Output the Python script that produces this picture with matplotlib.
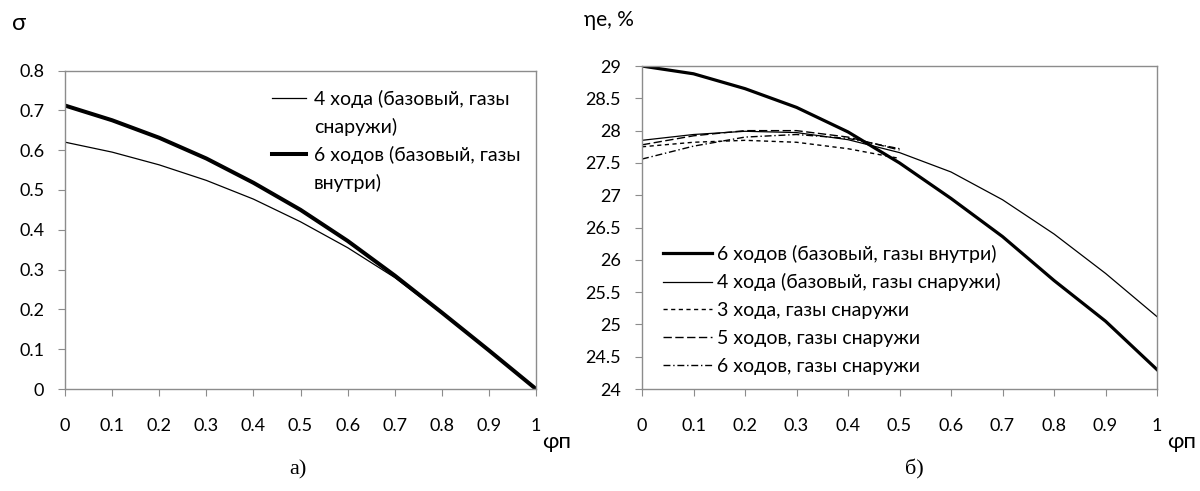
import numpy as np
import matplotlib.pyplot as plt
from matplotlib.lines import Line2D

plt.rcParams['font.family'] = ['Lato', 'DejaVu Sans']

phi = [0, 0.1, 0.2, 0.3, 0.4, 0.5, 0.6, 0.7, 0.8, 0.9, 1.0]

# а) sigma
sigma_4 = [0.62, 0.595, 0.563, 0.524, 0.477, 0.42, 0.355, 0.28, 0.19, 0.097, 0.0]
sigma_6 = [0.712, 0.675, 0.631, 0.579, 0.518, 0.45, 0.372, 0.285, 0.192, 0.097, 0.0]

# б) eta_e
eta_6 = [29.0, 28.88, 28.65, 28.36, 27.98, 27.5, 26.95, 26.36, 25.68, 25.05, 24.3]
eta_4 = [27.85, 27.94, 27.99, 27.97, 27.86, 27.66, 27.36, 26.93, 26.4, 25.79, 25.12]
phi_s = [0, 0.1, 0.2, 0.3, 0.4, 0.5]
eta_3s = [27.75, 27.82, 27.85, 27.82, 27.72, 27.57]
eta_5s = [27.78, 27.92, 28.0, 28.0, 27.9, 27.7]
eta_6s = [27.56, 27.76, 27.9, 27.94, 27.88, 27.72]

lab_4 = '4 хода (базовый, газы снаружи)'
lab_6 = '6 ходов (базовый, газы внутри)'
lab_3s = '3 хода, газы снаружи'
lab_5s = '5 ходов, газы снаружи'
lab_6s = '6 ходов, газы снаружи'

FS = 13
LFS = 14

fig = plt.figure(figsize=(12, 4.91), dpi=100)
ax1 = fig.add_axes([0.0542, 0.2077, 0.3925, 0.6487])
ax2 = fig.add_axes([0.535, 0.2077, 0.4292, 0.6578])

def style(ax):
    for s in ax.spines.values():
        s.set_color('#8c8c8c')
        s.set_linewidth(1.0)
    ax.tick_params(axis='x', direction='out', length=5, color='#8c8c8c', pad=16, labelsize=FS)
    ax.tick_params(axis='y', direction='out', length=5, color='#8c8c8c', pad=10, labelsize=FS)
    ax.set_xlim(0, 1)
    ax.set_xticks(np.arange(0, 1.01, 0.1))
    ax.set_xticklabels(['0'] + ['%.1f' % v for v in np.arange(0.1, 0.95, 0.1)] + ['1'])

# а)
l4, = ax1.plot(phi, sigma_4, color='black', lw=0.9)
l6, = ax1.plot(phi, sigma_6, color='black', lw=2.9)
style(ax1)
ax1.set_ylim(0, 0.8)
ax1.set_yticks(np.arange(0, 0.81, 0.1))
ax1.set_yticklabels(['0'] + ['%.1f' % v for v in np.arange(0.1, 0.85, 0.1)])
blank = Line2D([], [], color='none')
ax1.legend([l4, blank, l6, blank],
           ['4 хода (базовый, газы', 'снаружи)', '6 ходов (базовый, газы', 'внутри)'],
           loc='upper left', bbox_to_anchor=(0.44, 0.94), frameon=False, fontsize=LFS,
           borderpad=0, borderaxespad=0, handlelength=1.75, handletextpad=0.4, labelspacing=0.52)

# б)
ax2.plot(phi, eta_6, color='black', lw=2.3, label=lab_6)
ax2.plot(phi, eta_4, color='black', lw=0.9, label=lab_4)
ax2.plot(phi_s, eta_3s, color='black', lw=1.0, ls=(0, (3, 2.5)), label=lab_3s)
ax2.plot(phi_s, eta_5s, color='black', lw=1.0, ls=(0, (6, 2.5)), label=lab_5s)
ax2.plot(phi_s, eta_6s, color='black', lw=1.0, ls=(0, (5, 2, 1, 2)), label=lab_6s)
style(ax2)
ax2.set_ylim(24, 29)
ax2.set_yticks(np.arange(24, 29.01, 0.5))
ax2.set_yticklabels(['%g' % v for v in np.arange(24, 29.01, 0.5)])
ax2.legend(loc='upper left', bbox_to_anchor=(0.041, 0.447), frameon=False, fontsize=LFS,
           borderpad=0, borderaxespad=0, handlelength=2.5, handletextpad=0.28, labelspacing=0.55)

fig.text(0.010, 0.953, 'σ', fontsize=17, va='center', ha='left')
fig.text(0.487, 0.960, 'ηe, %', fontsize=15, va='center', ha='left')
fig.text(0.452, 0.100, 'φп', fontsize=16, va='center', ha='left')
fig.text(0.973, 0.100, 'φп', fontsize=16, va='center', ha='left')
fig.text(0.248, 0.043, 'а)', fontsize=16, family='Liberation Serif', va='center', ha='center')
fig.text(0.762, 0.043, 'б)', fontsize=16, family='Liberation Serif', va='center', ha='center')

fig.savefig('out.png', dpi=100)
